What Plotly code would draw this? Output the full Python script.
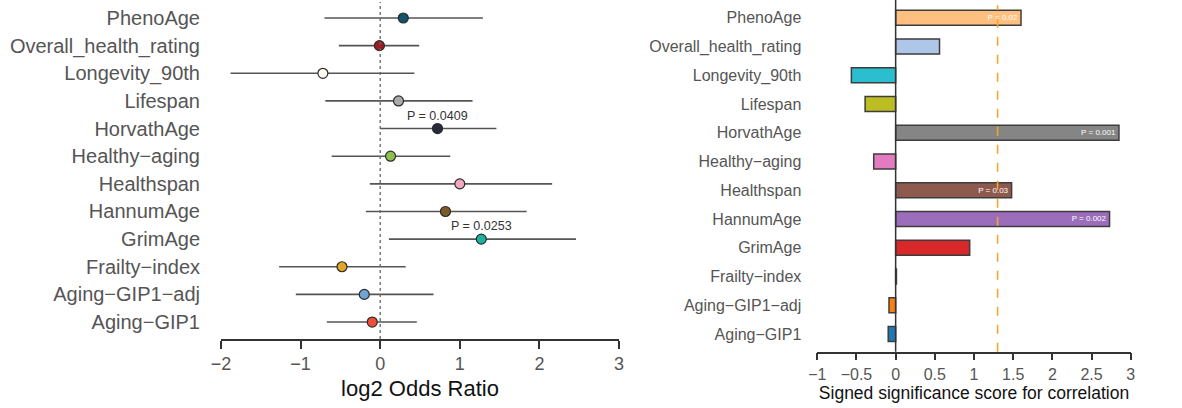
import plotly.graph_objects as go

# ---------------- data ----------------
categories = ["PhenoAge", "Overall_health_rating", "Longevity_90th", "Lifespan",
              "HorvathAge", "Healthy\u2212aging", "Healthspan", "HannumAge",
              "GrimAge", "Frailty\u2212index", "Aging\u2212GIP1\u2212adj", "Aging\u2212GIP1"]

log2_or = [0.29, -0.01, -0.72, 0.23, 0.72, 0.13, 1.00, 0.82, 1.27, -0.48, -0.20, -0.10]
ci_low = [-0.70, -0.52, -1.88, -0.69, 0.00, -0.61, -0.13, -0.18, 0.11, -1.27, -1.06, -0.67]
ci_high = [1.29, 0.49, 0.43, 1.16, 1.46, 0.88, 2.16, 1.84, 2.46, 0.32, 0.67, 0.46]
point_colors = ["#12536B", "#9E1B22", "#FFFCEE", "#A8ABA8", "#262B3A", "#8DC14A",
                "#F2A7C2", "#7D5B28", "#1BB3A0", "#E2A62A", "#6EA5D5", "#EF4E3A"]
or_pvalue_labels = {"HorvathAge": "P = 0.0409", "GrimAge": "P = 0.0253"}

signed_score = [1.60, 0.56, -0.565, -0.39, 2.85, -0.28, 1.48, 2.73, 0.945, 0.01, -0.085, -0.095]
bar_colors = ["#FFBF7F", "#AEC7E8", "#2BBECF", "#BCBD22", "#858585", "#E27BC0",
              "#8F5A4E", "#9B6DBA", "#D9282A", "#FF9896", "#FF7F0E", "#1F77B4"]
bar_text = ["P = 0.02", "", "", "", "P = 0.001", "", "P = 0.03", "P = 0.002", "", "", "", ""]
sig_threshold = 1.301  # -log10(0.05)

left_ticks = [-2, -1, 0, 1, 2, 3]
right_ticks = [-1, -0.5, 0, 0.5, 1, 1.5, 2, 2.5, 3]
right_tick_text = ["\u22121", "\u22120.5", "0", "0.5", "1", "1.5", "2", "2.5", "3"]

FONT = "Liberation Sans, Arial, Helvetica, sans-serif"
W, H = 1182, 408

fig = go.Figure()

# ---------------- left: forest plot ----------------
err_plus = [h - p for h, p in zip(ci_high, log2_or)]
err_minus = [p - l for p, l in zip(log2_or, ci_low)]
fig.add_trace(go.Scatter(
    x=log2_or, y=categories, mode="markers",
    marker=dict(size=10, color=point_colors, line=dict(color="#2a2a2a", width=1.2)),
    error_x=dict(type="data", symmetric=False, array=err_plus, arrayminus=err_minus,
                 width=0, thickness=1.6, color="#555555"),
    xaxis="x", yaxis="y", showlegend=False, hoverinfo="skip",
))

# ---------------- right: bar plot ----------------
fig.add_trace(go.Bar(
    x=signed_score, y=categories, orientation="h", width=0.52,
    marker=dict(color=bar_colors, line=dict(color="#3d3d3d", width=1.5)),
    text=bar_text, textposition="inside", insidetextanchor="end",
    textfont=dict(size=8, color="white", family=FONT), constraintext="none",
    xaxis="x2", yaxis="y2", showlegend=False, hoverinfo="skip",
))

# annotations for P values on the forest plot
annots = []
for name, label in or_pvalue_labels.items():
    i = categories.index(name)
    annots.append(dict(x=log2_or[i], y=name, xref="x", yref="y", text=label,
                       showarrow=False, yshift=13, font=dict(size=12.5, color="#333333", family=FONT)))

shapes = [
    dict(type="line", xref="x", yref="y domain", x0=0, x1=0, y0=0, y1=1,
         line=dict(color="#666666", width=1.3, dash="dot")),
    dict(type="line", xref="x2", yref="y2 domain", x0=0, x1=0, y0=0, y1=1,
         line=dict(color="#333333", width=1.5)),
    dict(type="line", xref="x2", yref="y2 domain", x0=sig_threshold, x1=sig_threshold, y0=0, y1=0.985,
         line=dict(color="#F2A531", width=1.6, dash="dash")),
]

left_top_px, left_row_px, left_axis_px = 18, 27.64, 339
right_top_px, right_row_px, right_axis_px = 17.7, 28.75, 351.7

fig.update_layout(
    width=W, height=H, autosize=False,
    margin=dict(l=0, r=0, t=0, b=0, autoexpand=False),
    paper_bgcolor="white", plot_bgcolor="white",
    font=dict(family=FONT),
    xaxis=dict(domain=[221 / W, 619 / W], range=[-2, 3], tickvals=left_ticks,
               showgrid=False, zeroline=False, showline=True, linecolor="#333333", linewidth=1.5,
               ticks="outside", ticklen=8, tickwidth=1.5, tickcolor="#333333",
               tickfont=dict(size=18, color="#555555"), automargin=False,
               title=dict(text="log2 Odds Ratio", font=dict(size=22, color="#111111"), standoff=7),
               anchor="y"),
    yaxis=dict(domain=[1 - left_axis_px / H, 1 - 2 / H], type="category",
               categoryorder="array", categoryarray=categories,
               range=[(left_axis_px - left_top_px) / left_row_px, (2 - left_top_px) / left_row_px],
               showgrid=False, zeroline=False, showline=False, ticks="", automargin=False,
               tickfont=dict(size=20, color="#555555"), ticklabelstandoff=20, anchor="x"),
    xaxis2=dict(domain=[817.3 / W, 1130.7 / W], range=[-1, 3], tickvals=right_ticks,
                ticktext=right_tick_text,
                showgrid=False, zeroline=False, showline=True, linecolor="#333333", linewidth=1.5,
                ticks="outside", ticklen=7, tickwidth=1.5, tickcolor="#333333",
                tickfont=dict(size=16, color="#555555"), automargin=False,
                title=dict(text="Signed significance score for correlation",
                           font=dict(size=17.5, color="#111111"), standoff=2),
                anchor="y2"),
    yaxis2=dict(domain=[1 - right_axis_px / H, 1.0], type="category",
                categoryorder="array", categoryarray=categories,
                range=[(right_axis_px - right_top_px) / right_row_px, (0 - right_top_px) / right_row_px],
                showgrid=False, zeroline=False, showline=False, ticks="", automargin=False,
                tickfont=dict(size=16, color="#555555"), ticklabelstandoff=15, anchor="x2"),
    annotations=annots,
    shapes=shapes,
)

fig.write_html("out.html")
